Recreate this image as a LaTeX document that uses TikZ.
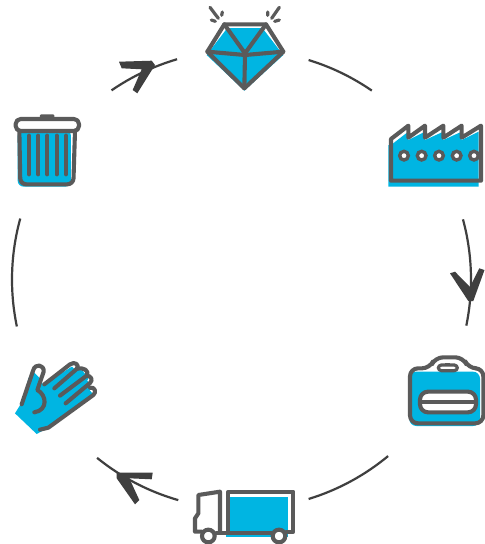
\documentclass[tikz,border=0pt]{standalone}
\usetikzlibrary{calc}
\definecolor{icoblue}{HTML}{00B5E2}
\definecolor{icoline}{HTML}{5A5A5A}
\definecolor{ringline}{HTML}{3F3F3F}
\tikzset{
  ring/.style={draw=ringline,line width=2.2pt},
  head/.style={fill=ringline,draw=none},
  ink/.style={draw=icoline,line width=4.1pt,line cap=round,line join=round},
  inkthin/.style={draw=icoline,line width=3.2pt,line cap=round,line join=round},
  tint/.style={fill=icoblue,draw=none},
  zoomed/.style={shift={#1},scale=1/3}
}
\begin{document}
\begin{tikzpicture}[x=1pt,y=-1pt]
\useasboundingbox (0,0) rectangle (485,544);
\fill[white] (0,0) rectangle (485,544);
\coordinate (c) at (241.5,279.5);
% ring arcs
\foreach \a/\b in {-73/-55.4,-15.2/11.6,50.3/73,106/129,168.2/195.4,235.5/253.7}{
  \draw[ring] ($(c)+(\a:229.5)$) arc[start angle=\a,end angle=\b,radius=229.5];
}
% arrow heads
\fill[head] (119,61.7)--(151.7,60.7)--(155,65)--(137.3,93.3)--(132.7,90)--(141.7,69.3)--(121.7,68.3)--cycle;
\fill[head] (450,273.3)--(455,271.7)--(470,287)--(479.3,268.3)--(484.5,270)--(473.3,301)--(468.3,301)--cycle;
\fill[head] (116.7,472.7)--(152.7,472.7)--(151.7,479.3)--(129.3,478.3)--(139.3,500)--(135,504.3)--(116.7,478.3)--cycle;
% diamond
\begin{scope}[zoomed={(190,0)}]
\fill[tint] (112,84)--(217,84)--(268,150)--(280,165)--(163,272)--(50,165)--cycle;
\draw[ink] (103,73)--(228,73)--(280,155)--(163,265)--(52,155)--cycle;
\draw[ink] (103,73)--(165,160)--(228,73);
\draw[ink] (52,155)--(165,165)--(280,155);
\draw[ink] (165,165)--(163,265);
\draw[inkthin] (60,22)--(85,55) (97,36)--(95,46) (64,60)--(76,64);
\draw[inkthin] (268,22)--(245,55) (233,36)--(233,46) (254,64)--(268,60);
\end{scope}
% factory
\begin{scope}[zoomed={(380,115)}]
\fill[tint] (25,90)--(33,90)--(85,50)--(85,75)--(135,50)--(135,75)--(190,50)--(190,75)--(245,50)--(245,75)--(296,50)--(296,215)--(25,215)--cycle;
\draw[ink] (303,32)--(303,197)--(33,197)--(33,72)--(85,32)--(85,68)--(135,32)--(135,68)--(190,32)--(190,68)--(245,32)--(245,68)--cycle;
\foreach \x in {72,125,177,230,282}{
  \filldraw[draw=icoline,fill=white,line width=3.4pt] (\x,122) circle (13);
}
\end{scope}
% bag
\begin{scope}[zoomed={(400,350)}]
\fill[tint,rounded corners=7pt] (28,65) rectangle (240,228);
\draw[ink,rounded corners=8pt] (90,55)--(105,22)--(190,22)--(205,55)--(250,55)--(250,220)--(30,220)--(30,55)--cycle;
\draw[inkthin,fill=white,rounded corners=3pt] (115,45) rectangle (172,62);
\fill[icoline] (135,38) rectangle (150,48);
\draw[ink,fill=white,rounded corners=8pt] (60,125) rectangle (228,187);
\draw[ink] (62,156)--(226,156);
\end{scope}
% truck
\begin{scope}[zoomed={(185,480)}]
\fill[tint] (122,50) rectangle (310,170);
\draw[ink] (50,155)--(30,155)--(30,115)--(40,100)--(40,45)--(105,35)--(105,158);
\draw[ink] (95,158)--(262,158);
\draw[ink] (130,158)--(130,35)--(325,35)--(325,155)--(305,155);
\filldraw[draw=icoline,fill=white,line width=4.1pt] (70,168) circle (19);
\filldraw[draw=icoline,fill=white,line width=4.1pt] (282,168) circle (19);
\end{scope}
% hand
\begin{scope}[zoomed={(5,355)}]
\fill[tint] (85,50)--(105,70)--(115,90)--(200,35)--(235,48)--(250,72)--(255,105)--(265,120)--(130,218)--(95,237)--(30,175)--(55,135)--(70,70)--cycle;
\fill[white] (208,36) circle (5) (240,50) circle (5) (252,76) circle (5) (260,106) circle (5);
\draw[ink] (50,148)--(85,45) .. controls (90,25) and (118,28) .. (116,50)--(97,105) .. controls (125,120) and (130,165) .. (88,172);
\draw[ink] (118,88)--(195,28) .. controls (210,18) and (225,30) .. (215,42)--(148,100);
\draw[ink] (215,42) .. controls (235,35) and (255,48) .. (245,62)--(165,122);
\draw[ink] (245,62) .. controls (258,62) and (265,75) .. (255,84)--(182,145);
\draw[ink] (255,98) .. controls (270,95) and (275,112) .. (265,120)--(130,218)--(105,224);
\end{scope}
% bin
\begin{scope}[zoomed={(5,105)}]
\fill[tint,rounded corners=6pt] (38,75)--(198,75)--(198,245)--(38,245)--cycle;
\draw[ink,fill=white,rounded corners=5pt] (32,42) rectangle (222,78);
\fill[icoline,rounded corners=1pt] (105,28) rectangle (148,42);
\draw[ink,rounded corners=6pt] (43,78)--(46,238)--(205,238)--(210,78);
\foreach \x in {72,100,127,155,183}{\draw[ink] (\x,92)--(\x,208);}
\end{scope}
\end{tikzpicture}
\end{document}
